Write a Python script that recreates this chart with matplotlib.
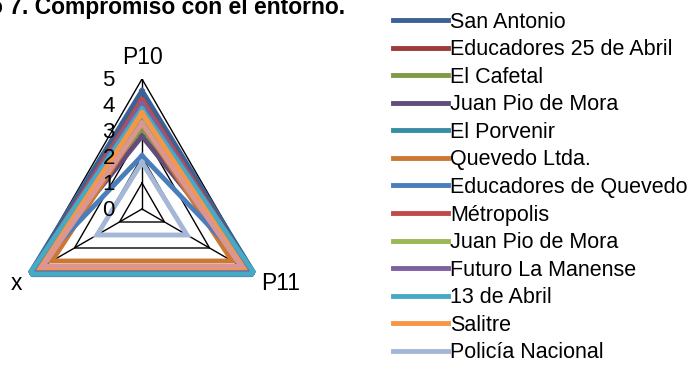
import numpy as np
import matplotlib
matplotlib.use('Agg')
import matplotlib.pyplot as plt

plt.rcParams['font.family'] = ['Liberation Sans', 'DejaVu Sans']

axes_labels = ['P10', 'P11', 'x']
series_names = ['San Antonio', 'Educadores 25 de Abril', 'El Cafetal', 'Juan Pio de Mora',
                'El Porvenir', 'Quevedo Ltda.', 'Educadores de Quevedo', 'Métropolis',
                'Juan Pio de Mora', 'Futuro La Manense', '13 de Abril', 'Salitre',
                'Policía Nacional', '']
# values per series: P10, P11, x
san_antonio = [4.55, 5.0, 5.0]
educadores_25 = [4.2, 4.9, 4.9]
el_cafetal = [3.0, 4.7, 4.7]
juan_pio_1 = [2.8, 4.85, 4.85]
el_porvenir = [3.55, 4.9, 4.9]
quevedo_ltda = [3.3, 4.0, 4.0]
educadores_quevedo = [2.05, 5.05, 5.05]
metropolis = [4.2, 4.85, 4.85]
juan_pio_2 = [3.65, 4.7, 4.7]
futuro_manense = [4.05, 4.9, 4.9]
trece_abril = [3.85, 5.0, 5.0]
salitre = [3.7, 4.5, 4.5]
policia = [1.8, 2.0, 2.0]
sin_nombre = [3.3, 4.4, 4.4]

values = [san_antonio, educadores_25, el_cafetal, juan_pio_1, el_porvenir, quevedo_ltda,
          educadores_quevedo, metropolis, juan_pio_2, futuro_manense, trece_abril,
          salitre, policia, sin_nombre]
colors = ['#3B6296', '#9E3B38', '#7E9B45', '#624C7C', '#358EA1', '#CC7832',
          '#4A7EBB', '#BE4B48', '#98B954', '#7D60A0', '#46AAC5', '#F79646',
          '#A5B7D6', '#D99694']

W, H = 697, 367
fig = plt.figure(figsize=(W / 100, H / 100), dpi=100)
cx, cy, R = 142, 209, 130
ax = fig.add_axes([(cx - R) / W, (H - cy - R) / H, 2 * R / W, 2 * R / H], projection='polar')
ax.set_theta_offset(np.pi / 2)
ax.set_theta_direction(-1)
ax.set_ylim(0, 5)
ax.axis('off')

theta = np.linspace(0, 2 * np.pi, len(axes_labels), endpoint=False)
closed = np.append(theta, theta[0])

# grid
for k in range(1, 6):
    ax.plot(closed, [k] * 4, color='black', lw=1, zorder=1)
for t in theta:
    ax.plot([t, t], [0, 5], color='black', lw=1, zorder=1)

handles = []
for name, v, c in zip(series_names, values, colors):
    line, = ax.plot(closed, v + [v[0]], color=c, lw=3.5, solid_joinstyle='miter', zorder=2)
    if name:
        line.set_label(name)
        handles.append(line)

for k in range(6):
    ax.annotate(str(k), (0, k), xytext=(-19.5, -1), textcoords='offset points',
                ha='right', va='center', fontsize=16, zorder=3)

ax.annotate(axes_labels[0], (theta[0], 5), xytext=(0, 15.5), textcoords='offset points',
            ha='center', va='center', fontsize=16.5)
ax.annotate(axes_labels[1], (theta[1], 5), xytext=(5, -7), textcoords='offset points',
            ha='left', va='center', fontsize=16.5)
ax.annotate(axes_labels[2], (theta[2], 5), xytext=(-5, -7), textcoords='offset points',
            ha='right', va='center', fontsize=16.5)

fig.text(345 / W, 1 - 14 / H, 'Gráfico 7. Compromiso con el entorno.', ha='right',
         va='baseline', fontsize=16.5, fontweight='bold')

fig.legend(handles=handles, loc='upper left', bbox_to_anchor=(384 / W, 1 - 3 / H),
           frameon=False, fontsize=15.5, handlelength=2.55, handletextpad=0.12,
           labelspacing=0.305, borderaxespad=0)

fig.savefig('out.png', dpi=100)
